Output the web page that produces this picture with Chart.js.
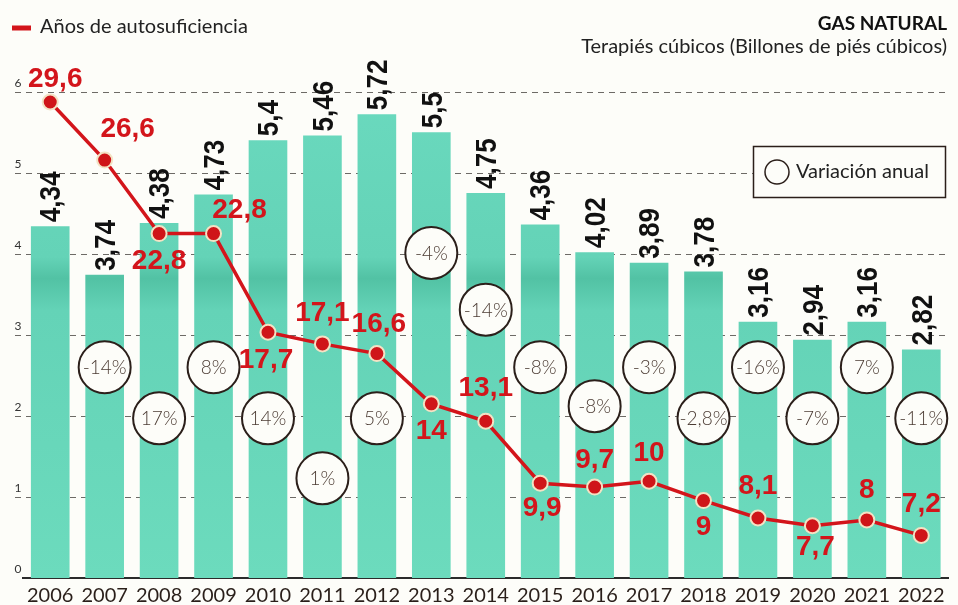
<!DOCTYPE html>
<html>
<head>
<meta charset="utf-8">
<script src="https://cdn.jsdelivr.net/npm/chart.js@4.4.0/dist/chart.umd.min.js"></script>
<style>
  html, body { margin: 0; padding: 0; background: #fdfdf9; }
  #wrap { position: relative; width: 958px; height: 605px; }
</style>
</head>
<body>
<div id="wrap"><canvas id="gasChart" width="958" height="605"></canvas></div>
<script>
// data
const years = ['2006', '2007', '2008', '2009', '2010', '2011', '2012', '2013', '2014',
  '2015', '2016', '2017', '2018', '2019', '2020', '2021', '2022'];
const production = [4.34, 3.74, 4.38, 4.73, 5.4, 5.46, 5.72, 5.5, 4.75, 4.36, 4.02, 3.89, 3.78, 3.16, 2.94, 3.16, 2.82];
const selfSufficiency = [29.6, 26.6, 22.8, 22.8, 17.7, 17.1, 16.6, 14, 13.1, 9.9, 9.7, 10, 9, 8.1, 7.7, 8, 7.2];
const annualChange = [null, '-14%', '17%', '8%', '14%', '1%', '5%', '-4%', '-14%', '-8%', '-8%', '-3%', '-2,8%', '-16%', '-7%', '7%', '-11%'];
const yTicks = [0, 1, 2, 3, 4, 5, 6];

const RED = '#d3151b';
const fmt = v => String(v).replace('.', ',');

// where the variation bubbles sit (in left-axis units) and label nudges for the red line
const bubbleLevel = [null, 2.6, 1.97, 2.6, 1.97, 1.23, 1.97, 4.01, 3.31, 2.6, 2.12, 2.6, 1.97, 2.6, 1.97, 2.6, 1.97];
const redLabelOffset = [[5, -23], [23, -31], [0, 28], [26, -23], [-2, 28], [0, -31], [2, -29], [0, 27], [0, -33],
  [2, 25], [0, -27], [0, -28], [0, 27], [0, -32], [3, 22], [0, -30], [0, -31]];

const paperPlugin = {
  id: 'paper',
  beforeDraw(chart) {
    const ctx = chart.ctx;
    ctx.save();
    ctx.fillStyle = '#fdfdf9';
    ctx.fillRect(0, 0, chart.width, chart.height);
    ctx.restore();
  },
  // dashed guide lines + small tick numbers sitting just above them
  beforeDatasetsDraw(chart) {
    const ctx = chart.ctx;
    const ys = chart.scales.y;
    ctx.save();
    ctx.strokeStyle = '#6d6a66';
    ctx.lineWidth = 1;
    ctx.setLineDash([6, 5]);
    ctx.fillStyle = '#333';
    ctx.font = '12px Lato, "Open Sans", sans-serif';
    ctx.textAlign = 'center';
    ctx.textBaseline = 'middle';
    yTicks.forEach(v => {
      const y = Math.round(ys.getPixelForValue(v)) + 0.5;
      ctx.fillText(String(v), 18, y - 9);
      if (v === 0) return;
      ctx.beginPath();
      ctx.moveTo(15, y);
      ctx.lineTo(chart.chartArea.right - 3, y);
      ctx.stroke();
    });
    ctx.restore();
  }
};

const annotatePlugin = {
  id: 'annotate',
  afterDatasetDraw(chart, args) {
    if (args.index !== 0) return;
    const ctx = chart.ctx;
    const xs = chart.scales.x, ys = chart.scales.y;
    ctx.save();
    // bar values, rotated and squeezed a bit like the print
    const bars = chart.getDatasetMeta(0).data;
    ctx.fillStyle = '#111';
    ctx.font = 'bold 30px "Liberation Sans", Arial, sans-serif';
    ctx.textAlign = 'left';
    ctx.textBaseline = 'middle';
    bars.forEach((b, i) => {
      ctx.save();
      ctx.translate(b.x + 1, b.y - 4);
      ctx.rotate(-Math.PI / 2);
      ctx.scale(0.87, 1);
      ctx.fillText(fmt(production[i]), 0, 1);
      ctx.restore();
    });
    // yearly variation bubbles
    annualChange.forEach((t, i) => {
      if (!t) return;
      const x = xs.getPixelForValue(i);
      const y = ys.getPixelForValue(bubbleLevel[i]);
      ctx.beginPath();
      ctx.arc(x, y, 26, 0, Math.PI * 2);
      ctx.fillStyle = '#fdfdf9';
      ctx.fill();
      ctx.lineWidth = 2;
      ctx.strokeStyle = '#2b1f1a';
      ctx.stroke();
      ctx.fillStyle = '#4b3b33';
      ctx.font = '300 19px Lato, "Open Sans", sans-serif';
      ctx.textAlign = 'center';
      ctx.textBaseline = 'middle';
      ctx.fillText(t, x, y + 1);
    });
    ctx.restore();
  },
  afterDatasetsDraw(chart) {
    const ctx = chart.ctx;
    ctx.save();
    // red values next to line points
    const pts = chart.getDatasetMeta(1).data;
    ctx.fillStyle = RED;
    ctx.font = 'bold 28px "Liberation Sans", Arial, sans-serif';
    ctx.textAlign = 'center';
    ctx.textBaseline = 'middle';
    pts.forEach((p, i) => {
      const o = redLabelOffset[i];
      ctx.fillText(fmt(selfSufficiency[i]), p.x + o[0], p.y + o[1]);
    });

    // legend top-left
    ctx.strokeStyle = RED;
    ctx.lineWidth = 5;
    ctx.beginPath();
    ctx.moveTo(12, 28);
    ctx.lineTo(31, 28);
    ctx.stroke();
    ctx.fillStyle = '#222';
    ctx.font = '20px Lato, "Open Sans", sans-serif';
    ctx.textAlign = 'left';
    ctx.fillText('Años de autosuficiencia', 40, 27);

    // title block top-right
    ctx.textAlign = 'right';
    ctx.font = 'bold 19px Lato, "Open Sans", sans-serif';
    ctx.fillStyle = '#111';
    ctx.fillText('GAS NATURAL', 947, 24);
    ctx.font = '20px Lato, "Open Sans", sans-serif';
    ctx.fillStyle = '#222';
    ctx.fillText('Terapiés cúbicos (Billones de piés cúbicos)', 947, 47);

    // boxed key for the bubbles
    ctx.fillStyle = '#fdfdf9';
    ctx.fillRect(753, 146, 192, 51);
    ctx.strokeStyle = '#2b1f1a';
    ctx.lineWidth = 1.5;
    ctx.strokeRect(753.5, 146.5, 192, 51);
    ctx.beginPath();
    ctx.arc(777, 172, 12, 0, Math.PI * 2);
    ctx.stroke();
    ctx.fillStyle = '#222';
    ctx.textAlign = 'left';
    ctx.font = '20px Lato, "Open Sans", sans-serif';
    ctx.fillText('Variación anual', 796, 172);
    ctx.restore();
  }
};

const ctx = document.getElementById('gasChart').getContext('2d');

// teal print colour with a slightly darker band, like the scan
const tealFill = (context) => {
  const area = context.chart.chartArea;
  if (!area) return '#68d8bd';
  const g = context.chart.ctx.createLinearGradient(0, area.top, 0, area.bottom);
  g.addColorStop(0, '#6cdbc0');
  g.addColorStop(0.4, '#64d3b7');
  g.addColorStop(0.44, '#52c2a4');
  g.addColorStop(0.5, '#64d3b7');
  g.addColorStop(1, '#6cdbbd');
  return g;
};

new Chart(ctx, {
  data: {
    labels: years,
    datasets: [
      {
        type: 'bar',
        label: 'Gas natural',
        data: production,
        backgroundColor: tealFill,
        borderWidth: 0,
        categoryPercentage: 1,
        barPercentage: 0.71,
        yAxisID: 'y',
        order: 2
      },
      {
        type: 'line',
        label: 'Años de autosuficiencia',
        data: selfSufficiency,
        borderColor: RED,
        borderWidth: 3.5,
        pointRadius: 7.5,
        pointBackgroundColor: '#cf1519',
        pointBorderColor: '#f3e2c4',
        pointBorderWidth: 2,
        tension: 0,
        yAxisID: 'y2',
        order: 1
      }
    ]
  },
  options: {
    responsive: false,
    animation: false,
    devicePixelRatio: 1,
    layout: { padding: { left: 10, top: 43, right: 5, bottom: 0 } },
    plugins: {
      legend: { display: false },
      tooltip: { enabled: false },
      title: { display: false }
    },
    scales: {
      x: {
        grid: { display: false },
        border: { display: true, color: '#2b2b2b', width: 2 },
        ticks: {
          color: '#2a1f1a',
          font: { family: 'Lato, "Open Sans", sans-serif', size: 20 },
          padding: -2,
          maxRotation: 0,
          autoSkip: false
        },
        afterFit(scale) { scale.height = 27; }
      },
      y: {
        min: 0,
        max: 6.6,
        afterBuildTicks(scale) { scale.ticks = yTicks.map(v => ({ value: v })); },
        afterFit(scale) { scale.width = 13; },
        border: { display: false },
        grid: { display: false },
        ticks: { display: false }
      },
      y2: {
        display: false,
        min: 5,
        max: 32.65
      }
    }
  },
  plugins: [paperPlugin, annotatePlugin]
});
</script>
</body>
</html>
